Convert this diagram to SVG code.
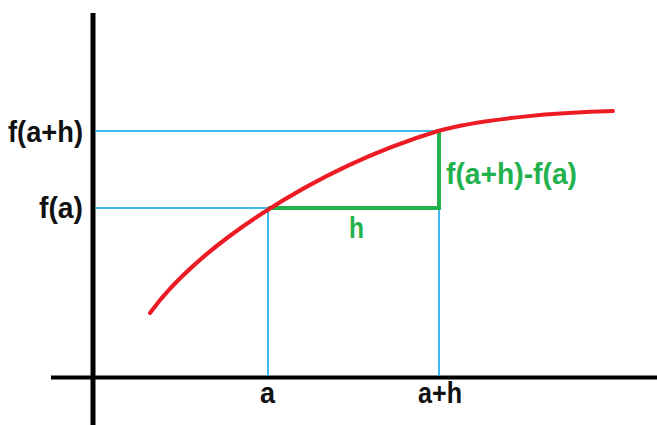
<svg xmlns="http://www.w3.org/2000/svg" width="657" height="425" viewBox="0 0 657 425">
<style>
.axis{stroke:#000;fill:none}
.guide{stroke:#00A2E8;stroke-width:1.5;fill:none}
.inc{stroke:#22B14C;stroke-width:4;fill:none}
.curve{stroke:#ED1C24;stroke-width:4;fill:none;stroke-linecap:round}
text{font-family:"Liberation Sans",Arial,sans-serif;font-weight:bold;font-size:30px}
.lbl{fill:#111}
.glbl{fill:#22B14C}
</style>
<rect width="657" height="425" fill="#fff"/>
<g id="axes">
<line class="axis" x1="93" y1="13" x2="93" y2="425" stroke-width="5"/>
<line class="axis" x1="51" y1="377.5" x2="657" y2="377.5" stroke-width="4"/>
</g>
<g id="connectors">
<line class="guide" x1="95" y1="131" x2="439" y2="131"/>
<line class="guide" x1="95" y1="208" x2="268" y2="208"/>
<line class="guide" x1="268" y1="208" x2="268" y2="376"/>
<line class="guide" x1="439" y1="131" x2="439" y2="376"/>
<polyline class="inc" points="268,208 439,208 439,130"/>
</g>
<g id="curve">
<path class="curve" d="M150,313 C195,250 310,170 438,131 C480,119 560,112 613,111"/>
</g>
<g id="label-fah"><text class="lbl" x="8" y="142" textLength="75" lengthAdjust="spacingAndGlyphs">f(a+h)</text></g>
<g id="label-fa"><text class="lbl" x="39" y="218" textLength="44" lengthAdjust="spacingAndGlyphs">f(a)</text></g>
<g id="label-diff"><text class="glbl" x="446" y="184" textLength="131" lengthAdjust="spacingAndGlyphs">f(a+h)-f(a)</text></g>
<g id="label-h"><text class="glbl" x="349" y="238" textLength="15" lengthAdjust="spacingAndGlyphs">h</text></g>
<g id="label-a"><text class="lbl" x="260" y="403" textLength="15" lengthAdjust="spacingAndGlyphs">a</text></g>
<g id="label-ah"><text class="lbl" x="418" y="403" textLength="44" lengthAdjust="spacingAndGlyphs">a+h</text></g>
</svg>
